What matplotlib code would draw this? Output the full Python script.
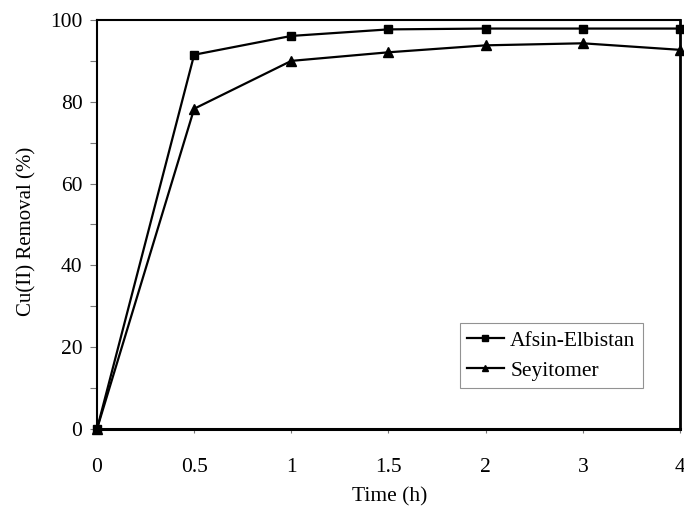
import matplotlib
matplotlib.use("Agg")
import matplotlib.pyplot as plt
from matplotlib.ticker import MultipleLocator

plt.rcParams['font.family'] = ['Liberation Serif', 'DejaVu Serif']

time_labels = ['0', '0.5', '1', '1.5', '2', '3', '4']
afsin = [0, 91.5, 96.1, 97.7, 97.9, 97.9, 97.9]
seyitomer = [0, 78.3, 90.0, 92.1, 93.8, 94.3, 92.7]

fig = plt.figure(figsize=(6.84, 5.07), dpi=100)
ax = fig.add_axes([0.1418, 0.1538, 0.8523, 0.8068])

x = list(range(len(time_labels)))
ax.plot(x, afsin, color='black', lw=1.6, marker='s', markersize=6,
        label='Afsin-Elbistan', clip_on=False, zorder=3)
ax.plot(x, seyitomer, color='black', lw=1.6, marker='^', markersize=6.5,
        label='Seyitomer', clip_on=False, zorder=3)

ax.set_xlim(0, len(time_labels) - 1)
ax.set_ylim(0, 100)
ax.set_xticks(x)
ax.set_xticklabels(time_labels)
ax.yaxis.set_major_locator(MultipleLocator(20))
ax.yaxis.set_minor_locator(MultipleLocator(10))

ax.tick_params(axis='x', direction='out', length=3, width=0.8, color='#777777',
               labelsize=15.5, pad=18)
ax.tick_params(axis='y', which='both', direction='out', length=5, width=0.8,
               color='#777777', labelsize=15.5, pad=5.5)

for s in ['left', 'top']:
    ax.spines[s].set_linewidth(1.5)
ax.spines['bottom'].set_linewidth(2.2)
ax.spines['right'].set_linewidth(2.0)

ax.set_xlabel('Time (h)', fontsize=15.5)
ax.xaxis.label.set_verticalalignment('center')
ax.xaxis.set_label_coords(0.5026, -0.166)
ax.set_ylabel('Cu(II) Removal (%)', fontsize=15)
ax.yaxis.label.set_verticalalignment('center')
ax.yaxis.set_label_coords(-0.12, 0.484)

leg = ax.legend(loc='lower right', bbox_to_anchor=(0.9365, 0.100), borderaxespad=0,
                fontsize=15.5, frameon=True, fancybox=False, edgecolor='#777777',
                handlelength=1.7, markerscale=0.7, borderpad=0.35,
                labelspacing=0.45, handletextpad=0.3)
leg.get_frame().set_linewidth(0.8)

fig.savefig('out.png', dpi=100)
